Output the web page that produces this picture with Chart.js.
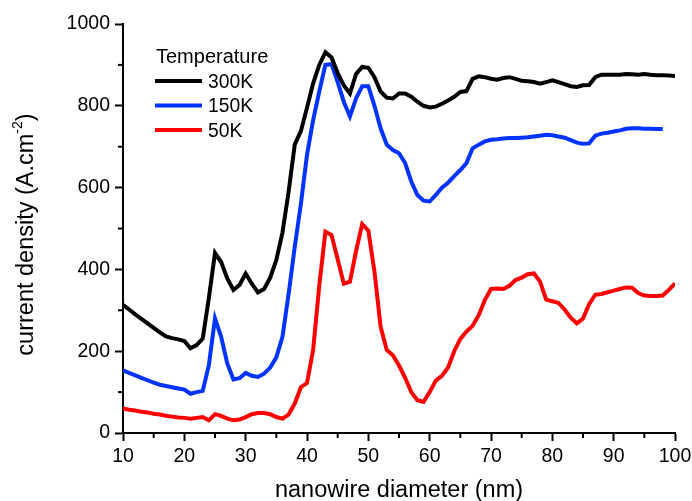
<!DOCTYPE html>
<html>
<head>
<meta charset="utf-8">
<script src="https://cdn.jsdelivr.net/npm/chart.js@4.4.1/dist/chart.umd.min.js"></script>
<style>
  html, body { margin: 0; padding: 0; background: #fff; }
  #wrap { width: 692px; height: 501px; position: relative; }
</style>
</head>
<body>
<div id="wrap"><canvas id="grafico"></canvas></div>
<script>
// diámetro del nanohilo (nm)
const diametros = [10, 11, 12, 13, 14, 15, 16, 17, 18, 19, 20, 21, 22, 23, 24, 25, 26, 27, 28, 29,
	30, 31, 32, 33, 34, 35, 36, 37, 38, 39, 40, 41, 42, 43, 44, 45, 46, 47, 48, 49,
	50, 51, 52, 53, 54, 55, 56, 57, 58, 59, 60, 61, 62, 63, 64, 65, 66, 67, 68, 69,
	70, 71, 72, 73, 74, 75, 76, 77, 78, 79, 80, 81, 82, 83, 84, 85, 86, 87, 88, 89,
	90, 91, 92, 93, 94, 95, 96, 97, 98, 99, 100];

// densidad de corriente (A.cm-2) por temperatura
const t300K = [313, 302, 290, 279, 268, 257, 246, 236, 232, 229, 225, 207, 215, 231, 330, 440, 418, 378, 350, 362,
	390, 365, 344, 352, 380, 423, 490, 590, 705, 738, 795, 855, 900, 931, 918, 880, 850, 830, 878, 895,
	893, 870, 835, 820, 818, 830, 830, 822, 810, 800, 796, 798, 805, 813, 822, 834, 836, 866, 872, 870,
	866, 864, 868, 870, 866, 861, 860, 858, 854, 858, 862, 858, 853, 848, 846, 850, 851, 870, 876, 876,
	876, 876, 878, 877, 876, 878, 876, 875, 875, 874, 873];

const t150K = [153, 147, 141, 135, 129, 123, 118, 115, 112, 109, 106, 96, 100, 103, 166, 280, 235, 170, 131, 134,
	147, 140, 137, 145, 160, 185, 235, 340, 455, 560, 680, 765, 835, 900, 902, 858, 810, 774, 818, 848,
	848, 800, 745, 705, 692, 684, 660, 615, 582, 568, 566, 582, 600, 612, 628, 643, 660, 696, 705, 713,
	717, 718, 720, 721, 721, 722, 723, 725, 727, 729, 728, 725, 722, 716, 710, 707, 708, 727, 732, 734,
	737, 740, 744, 745, 745, 744, 744, 743, 743, null, null];

const t50K = [60, 57, 55, 52, 50, 47, 45, 42, 40, 38, 37, 35, 37, 39, 31, 46, 42, 35, 31, 33,
	39, 46, 49, 49, 46, 39, 35, 45, 72, 112, 122, 203, 360, 492, 484, 425, 365, 370, 445, 511,
	495, 395, 260, 203, 190, 165, 135, 100, 80, 76, 100, 128, 140, 160, 200, 230, 248, 262, 288, 325,
	352, 353, 352, 360, 374, 380, 388, 390, 370, 326, 322, 318, 302, 282, 268, 280, 315, 338, 340, 344,
	348, 352, 356, 355, 342, 336, 335, 335, 336, 350, 366];

const series = [
	{ label: '300K', valores: t300K, color: '#000000' },
	{ label: '150K', valores: t150K, color: '#0033ff' },
	{ label: '50K', valores: t50K, color: '#ff0000' }
];

const fuente = "'Liberation Sans', Arial, sans-serif";

// marcas menores a mitad de cada intervalo
const marcasMenores = {
	id: 'marcasMenores',
	afterDraw(chart) {
		const ctx = chart.ctx;
		const x = chart.scales.x, y = chart.scales.y;
		ctx.save();
		ctx.strokeStyle = '#000';
		ctx.lineWidth = 2;
		for (let v = 15; v < 100; v += 10) {
			const px = x.getPixelForValue(v);
			ctx.beginPath();
			ctx.moveTo(px, y.bottom);
			ctx.lineTo(px, y.bottom + 5);
			ctx.stroke();
		}
		for (let v = 100; v < 1000; v += 200) {
			const py = y.getPixelForValue(v);
			ctx.beginPath();
			ctx.moveTo(x.left, py);
			ctx.lineTo(x.left - 5, py);
			ctx.stroke();
		}
		ctx.restore();
	}
};

// título del eje Y con superíndice
const tituloY = {
	id: 'tituloY',
	afterDraw(chart) {
		const ctx = chart.ctx;
		const area = chart.chartArea;
		const base = 'current density (A.cm';
		const sup = '-2';
		const fin = ')';
		ctx.save();
		ctx.fillStyle = '#000';
		ctx.font = '23.5px ' + fuente;
		const w1 = ctx.measureText(base).width;
		const w3 = ctx.measureText(fin).width;
		ctx.font = '14px ' + fuente;
		const w2 = ctx.measureText(sup).width;
		const total = w1 + w2 + w3;
		const cy = (area.top + area.bottom) / 2 + 6;
		ctx.translate(33, cy);
		ctx.rotate(-Math.PI / 2);
		ctx.textBaseline = 'alphabetic';
		ctx.textAlign = 'left';
		let pos = -total / 2;
		ctx.font = '23.5px ' + fuente;
		ctx.fillText(base, pos, 0);
		pos += w1;
		ctx.font = '14px ' + fuente;
		ctx.fillText(sup, pos, -11);
		pos += w2;
		ctx.font = '23.5px ' + fuente;
		ctx.fillText(fin, pos, 0);
		ctx.restore();
	}
};

// leyenda con título "Temperature"
const leyenda = {
	id: 'leyenda',
	afterDraw(chart) {
		const ctx = chart.ctx;
		ctx.save();
		ctx.fillStyle = '#000';
		ctx.textAlign = 'left';
		ctx.textBaseline = 'alphabetic';
		ctx.font = '20px ' + fuente;
		ctx.fillText('Temperature', 156, 63);
		ctx.font = '19.3px ' + fuente;
		chart.data.datasets.forEach((ds, i) => {
			const yy = 81 + i * 24.5;
			ctx.strokeStyle = ds.borderColor;
			ctx.lineWidth = 4;
			ctx.beginPath();
			ctx.moveTo(155, yy);
			ctx.lineTo(202, yy);
			ctx.stroke();
			ctx.fillText(ds.label, 208, yy + 6.5);
		});
		ctx.restore();
	}
};

new Chart(document.getElementById('grafico'), {
	type: 'line',
	data: {
		datasets: series.map(s => ({
			label: s.label,
			data: diametros.map((d, i) => ({ x: d, y: s.valores[i] })),
			borderColor: s.color,
			backgroundColor: s.color,
			borderWidth: 4,
			pointRadius: 0,
			tension: 0,
			fill: false
		}))
	},
	options: {
		responsive: true,
		maintainAspectRatio: false,
		animation: false,
		layout: { padding: { top: 24, right: 17, left: 0, bottom: 0 } },
		plugins: {
			legend: { display: false },
			tooltip: { enabled: false }
		},
		scales: {
			x: {
				type: 'linear',
				min: 10,
				max: 100,
				afterFit(scale) {
					scale.height = 68;
					scale.paddingLeft = 0;
					scale.paddingRight = 0;
				},
				border: { display: true, color: '#000', width: 2 },
				grid: { drawOnChartArea: false, drawTicks: true, tickLength: 8, tickWidth: 2, tickColor: '#000' },
				ticks: { stepSize: 10, color: '#000', padding: 4, maxRotation: 0, font: { family: fuente, size: 19.5 } },
				title: {
					display: true,
					text: 'nanowire diameter (nm)',
					color: '#000',
					font: { family: fuente, size: 23.5 },
					padding: { top: 0, bottom: -4 }
				}
			},
			y: {
				min: 0,
				max: 1000,
				afterFit(scale) {
					scale.width = 123;
					scale.paddingTop = 0;
					scale.paddingBottom = 0;
				},
				border: { display: true, color: '#000', width: 2 },
				grid: { drawOnChartArea: false, drawTicks: true, tickLength: 8, tickWidth: 2, tickColor: '#000' },
				ticks: {
					stepSize: 200,
					color: '#000',
					padding: 5,
					font: { family: fuente, size: 19.5 },
					callback: v => String(v)
				}
			}
		}
	},
	plugins: [marcasMenores, tituloY, leyenda]
});
</script>
</body>
</html>
